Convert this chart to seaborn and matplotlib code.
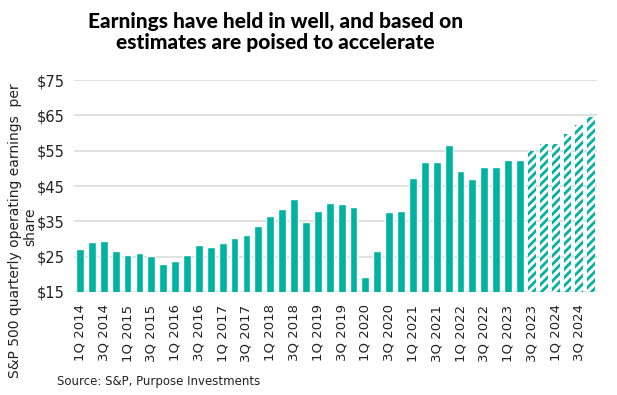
import numpy as np
import pandas as pd
import matplotlib
matplotlib.use('Agg')
import matplotlib.pyplot as plt
import seaborn as sns

# Quarterly S&P 500 operating EPS, 1Q 2014 - 4Q 2024 (last six are estimates)
quarters = [f"{q}Q {y}" for y in range(2014, 2025) for q in range(1, 5)]
eps = [27.1, 29.2, 29.5, 26.6, 25.5, 26.1, 25.2, 23.0,
       23.8, 25.5, 28.4, 27.8, 28.8, 30.4, 31.2, 33.8,
       36.4, 38.5, 41.4, 34.9, 38.0, 40.1, 39.8, 39.0,
       19.3, 26.6, 37.7, 38.0, 47.4, 51.9, 51.9, 56.7,
       49.3, 46.9, 50.3, 50.3, 52.5, 52.5, 55.0, 56.9,
       56.8, 59.8, 62.2, 64.6]
n_estimates = 6
y_ticks = [15, 25, 35, 45, 55, 65, 75]

teal = '#00b3a0'
sns.set_style('white')
plt.rcParams['font.family'] = ['DejaVu Sans']
plt.rcParams['hatch.linewidth'] = 2.0
plt.rcParams['hatch.color'] = teal

df = pd.DataFrame({'quarter': quarters, 'eps': eps})

fig = plt.figure(figsize=(6.17, 3.95), dpi=100)
ax = fig.add_axes([0.12, 0.261, 0.848, 0.536])

sns.barplot(data=df, x='quarter', y='eps', color=teal, saturation=1,
            width=0.66, ax=ax, zorder=3)

# estimate quarters drawn as hatched bars
for patch in ax.patches[-n_estimates:]:
    patch.set_facecolor('white')
    patch.set_hatch('////')
    patch.set_edgecolor(teal)
    patch.set_linewidth(0)

ax.set_ylim(15, 75)
ax.set_xlim(-0.5, len(quarters) - 0.5)
ax.set_yticks(y_ticks)
ax.set_yticklabels([f"${v}" for v in y_ticks], fontsize=10.5, color='#222222')
ax.set_xticks(range(0, len(quarters), 2))
ax.set_xticklabels(quarters[::2], rotation=90, fontsize=9.5, color='#222222')
ax.tick_params(axis='x', length=0, pad=9)
ax.tick_params(axis='y', length=0, pad=7)
ax.yaxis.grid(True, color='#dcdcdc', linewidth=1.2, zorder=0)
ax.set_axisbelow(True)
for s in ax.spines.values():
    s.set_visible(False)
ax.set_xlabel('')
ax.set_ylabel('')

# y label wraps onto a second short line, as in the original
fig.text(0.024, 0.415, 'S&P 500 quarterly operating earnings  per',
         rotation=90, ha='center', va='center', fontsize=10, color='#222222')
fig.text(0.049, 0.425, 'share',
         rotation=90, ha='center', va='center', fontsize=10, color='#222222')

fig.text(0.447, 0.97, 'Earnings have held in well, and based on\nestimates are poised to accelerate',
         ha='center', va='top', fontsize=15, fontweight='black', color='black',
         family=['Lato', 'DejaVu Sans'], linespacing=1.15)

fig.text(0.093, 0.035, 'Source: S&P, Purpose Investments', fontsize=8.5,
         color='#222222', ha='left', va='center')

fig.savefig('out.png', dpi=100)
